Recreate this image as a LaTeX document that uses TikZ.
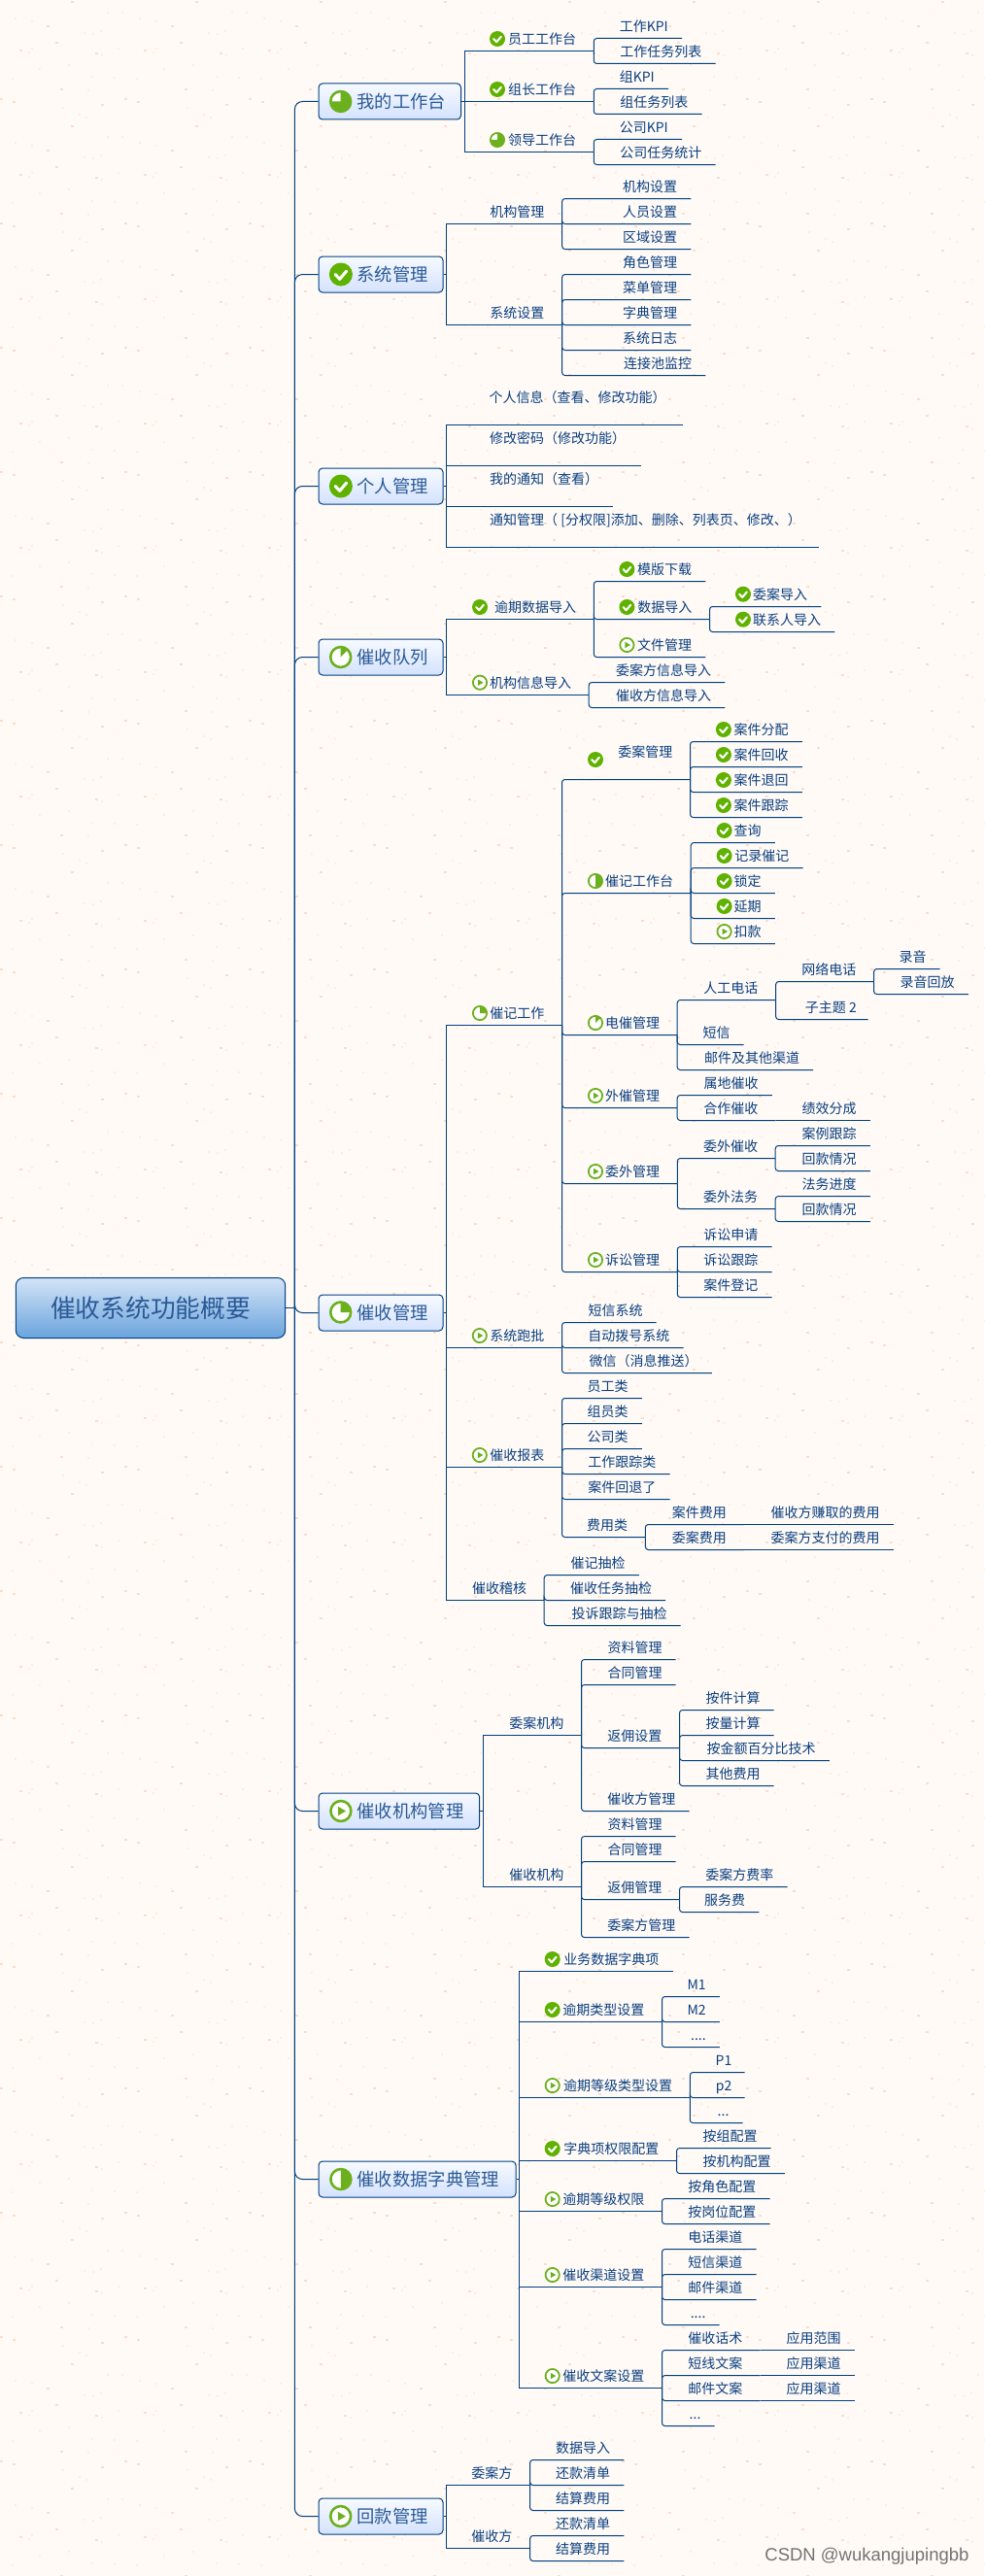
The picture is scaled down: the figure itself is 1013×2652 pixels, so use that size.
\documentclass[tikz,border=0pt]{standalone}
\usepackage{fontspec}
\setmainfont{Noto Sans CJK SC}
\newfontfamily\markfont{Liberation Sans}
\usepackage{xcolor}
\usepackage{tikz}

\definecolor{linecol}{HTML}{00407F}
\definecolor{textcol}{HTML}{0A3F80}
\definecolor{boxtext}{HTML}{2A5A96}
\definecolor{boxtop}{HTML}{F7FAFF}
\definecolor{boxbot}{HTML}{D4E2FE}
\definecolor{rootop}{HTML}{D3E4F7}
\definecolor{rootbot}{HTML}{6AA3DD}
\definecolor{chkgreen}{HTML}{5FB200}
\definecolor{piegreen}{HTML}{6CB01E}
\definecolor{paper}{HTML}{FFFAF6}
\definecolor{speckA}{HTML}{FADDCB}
\definecolor{speckB}{HTML}{FDEDE3}

\tikzset{
	leaf/.style={anchor=south east, inner xsep=14pt, inner ysep=6.8pt, text depth=0pt, text height=11pt, text=textcol, font=\fontsize{14}{16}\selectfont},
	branch/.style={leaf, inner xsep=18pt},
	tallleaf/.style={leaf, inner xsep=#1, inner ysep=22.8pt},
	maintopic/.style={draw=linecol, line width=1pt, rounded corners=4pt, top color=boxtop, bottom color=boxbot, text=boxtext, anchor=west, minimum height=37pt, inner xsep=12pt, inner ysep=0pt, text width=#1, align=left, text height=16pt, text depth=2pt, font=\fontsize{18.3}{22}\selectfont, execute at begin node={\hspace*{27.5pt}}},
	central/.style={draw=linecol, line width=1pt, rounded corners=8pt, top color=rootop, bottom color=rootbot, text=boxtext, minimum width=277.4pt, minimum height=62pt, text height=22pt, text depth=2.4pt, font=\fontsize{25.7}{30}\selectfont},
	link/.style={draw=linecol, line width=1pt, rounded corners=3pt},
	rootlink/.style={draw=linecol, line width=1pt},
	trunklink/.style={draw=linecol, line width=1pt, rounded corners=8pt},
	chkicon/.style={circle, inner sep=0pt, fill=chkgreen, minimum size=#1pt, path picture={
		\draw[white, line width={#1*.13pt}, line cap=round, line join=round] (path picture bounding box.center) ++({-.24*#1},{.0*#1}) -- ++({.19*#1},{.2*#1}) -- ++({.29*#1},{-.34*#1});}},
	pieicon/.style 2 args={circle, inner sep=0pt, draw=piegreen, fill=white, line width={#1*.11pt}, minimum size={#1*.89pt}, path picture={
		\fill[piegreen] (path picture bounding box.center) -- ++(90:30pt) arc[start angle=90, delta angle=-#2, radius=30pt] -- cycle;}},
	playicon/.style={circle, inner sep=0pt, draw=piegreen, fill=white, line width={#1*.11pt}, minimum size={#1*.89pt}, path picture={
		\fill[piegreen] (path picture bounding box.center) ++({-.12*#1},{-.2*#1}) -- ++({.34*#1},{.2*#1}) -- ++({-.34*#1},{.2*#1}) -- cycle;}},
}

\begin{document}
\begin{tikzpicture}[x=1pt,y=-1pt]
	\useasboundingbox (0,0) rectangle (1013,2652);
	% Paper
	\fill[paper] (0,0) rectangle (1013,2652);
	\foreach \tx in {0,128,...,896} {
		\foreach \ty in {0,128,...,2560} {
			\foreach \sx/\sy in {73/1,48/26,57/43,20/51,98/54,0/101,13/104,62/91,104/107} {
				\fill[speckA] (\tx+\sx,\ty+\sy) rectangle ++(2.5,2);
			}
			\foreach \sx/\sy in {29/53,32/49,104/56,103/31,95/34,86/33,121/49,90/92,94/78,117/79,88/120,81/117,15/18,32/21,125/12,40/70,70/66,110/12,12/80,64/110} {
				\fill[speckB] (\tx+\sx,\ty+\sy) rectangle ++(2,2);
			}
		}
	}

	% Root and main topics
	\node[central] (root) at (155,1346.5) {催收系统功能概要};
	\node[maintopic=122.5pt] (desk) at (327.5,104.5) {我的工作台};
	\node[maintopic=104pt] (sys) at (327.5,282.5) {系统管理};
	\node[maintopic=104pt] (pers) at (327.5,500.5) {个人管理};
	\node[maintopic=104pt] (queue) at (327.5,676.5) {催收队列};
	\node[maintopic=104pt] (coll) at (327.5,1351.5) {催收管理};
	\node[maintopic=141.7pt] (org) at (327.5,1864.5) {催收机构管理};
	\node[maintopic=179pt] (dict) at (327.5,2243.5) {催收数据字典管理};
	\node[maintopic=104pt] (refund) at (327.5,2590.5) {回款管理};

	% Icons of main topics
	\node[pieicon={23.5}{270}] (deskico) at (350.7,104.5) {};
	\node[chkicon=24] (sysico) at (350.9,282.5) {};
	\node[chkicon=24] (persico) at (350.9,500.5) {};
	\node[pieicon={23.5}{45}] (queueico) at (350.7,676.5) {};
	\node[pieicon={23.5}{90}] (collico) at (350.7,1351) {};
	\node[playicon=23.5] (orgico) at (350.9,1864.5) {};
	\node[pieicon={23.5}{180}] (dictico) at (350.9,2243.5) {};
	\node[playicon=23.5] (refundico) at (350.7,2590.5) {};

	% Trunk
	\coordinate (hub) at (303.4,1346.5);
	\draw[rootlink] (root.east) -- (hub);
	\foreach \topic in {desk,sys,pers,queue,coll,org,dict,refund}
		\draw[trunklink] (hub) |- (\topic.west);

	% My desk
	\coordinate (deskbus) at (478.6,104.5);
	\draw[rootlink] (desk.east) -- (deskbus);
	\node[branch] (staffdesk) at (611.3,52.5) {员工工作台};
	\node[branch] (groupdesk) at (611.3,104.5) {组长工作台};
	\node[branch] (leaddesk) at (611.3,156.5) {领导工作台};
	\node[chkicon=16] (staffico) at (512,40) {};
	\node[chkicon=16] (groupico) at (512,92) {};
	\node[pieicon={16}{270}] (leadico) at (512,144) {};
	\node[leaf] (staffkpi) at (702,39.5) {工作KPI};
	\node[leaf] (stafftask) at (736.5,65.5) {工作任务列表};
	\node[leaf] (groupkpi) at (688,91.5) {组KPI};
	\node[leaf] (grouptask) at (722.5,117.5) {组任务列表};
	\node[leaf] (leadkpi) at (702,143.5) {公司KPI};
	\node[leaf] (leadtask) at (736.5,169.5) {公司任务统计};
	\foreach \kid in {staffdesk,groupdesk,leaddesk}
		\draw[rootlink] (deskbus) |- (\kid.south east);
	\foreach \kid in {staffkpi,stafftask}
		\draw[link] (staffdesk.south east) |- (\kid.south east);
	\foreach \kid in {groupkpi,grouptask}
		\draw[link] (groupdesk.south east) |- (\kid.south east);
	\foreach \kid in {leadkpi,leadtask}
		\draw[link] (leaddesk.south east) |- (\kid.south east);

	% System
	\coordinate (sysbus) at (459.4,282.5);
	\draw[rootlink] (sys.east) -- (sysbus);
	\node[branch] (orgadmin) at (578.6,230.5) {机构管理};
	\node[branch] (syssetup) at (578.6,334.5) {系统设置};
	\node[leaf] (orgset) at (711.3,204.5) {机构设置};
	\node[leaf] (staffset) at (711.3,230.5) {人员设置};
	\node[leaf] (areaset) at (711.3,256.5) {区域设置};
	\node[leaf] (roleadmin) at (711.3,282.5) {角色管理};
	\node[leaf] (menuadmin) at (711.3,308.5) {菜单管理};
	\node[leaf] (wordadmin) at (711.3,334.5) {字典管理};
	\node[leaf] (syslog) at (711.3,360.5) {系统日志};
	\node[leaf] (poolwatch) at (726.3,386.5) {连接池监控};
	\foreach \kid in {orgadmin,syssetup}
		\draw[rootlink] (sysbus) |- (\kid.south east);
	\foreach \kid in {orgset,staffset,areaset}
		\draw[link] (orgadmin.south east) |- (\kid.south east);
	\foreach \kid in {roleadmin,menuadmin,wordadmin,syslog,poolwatch}
		\draw[link] (syssetup.south east) |- (\kid.south east);

	% Personal
	\coordinate (persbus) at (459.4,500.5);
	\draw[rootlink] (pers.east) -- (persbus);
	\node[tallleaf=17.5pt] (persinfo) at (703.4,437.5) {个人信息（查看、修改功能）};
	\node[tallleaf=16pt] (passwd) at (660.4,479.5) {修改密码（修改功能）};
	\node[tallleaf=15pt] (mynote) at (631.4,521.5) {我的通知（查看）};
	\node[tallleaf=18pt] (noteadmin) at (843,563.5) {通知管理（ [分权限]添加、删除、列表页、修改、）};
	\foreach \kid in {persinfo,passwd,mynote,noteadmin}
		\draw[rootlink] (persbus) |- (\kid.south east);

	% Queue
	\coordinate (queuebus) at (459.4,676.5);
	\draw[rootlink] (queue.east) -- (queuebus);
	\node[branch] (overdue) at (611.3,637.5) {逾期数据导入};
	\node[branch] (orginfo) at (606.2,715.5) {机构信息导入};
	\node[chkicon=16] (overdueico) at (494,625) {};
	\node[playicon=16] (orginfoico) at (494,702.7) {};
	\node[leaf] (tmpl) at (726.3,598.5) {模版下载};
	\node[branch] (dataimp) at (730.5,637.5) {数据导入};
	\node[leaf] (filemgr) at (726.3,676.5) {文件管理};
	\node[chkicon=16] (tmplico) at (645.4,586) {};
	\node[chkicon=16] (dataico) at (645.4,625) {};
	\node[playicon=16] (fileico) at (645.4,664) {};
	\node[leaf] (caseimp) at (845.4,624.5) {委案导入};
	\node[leaf] (contactimp) at (859.4,650.5) {联系人导入};
	\node[chkicon=16] (caseimpico) at (765,611.7) {};
	\node[chkicon=16] (contactico) at (765,637.7) {};
	\node[leaf] (ownerinfo) at (746.4,702.5) {委案方信息导入};
	\node[leaf] (agentinfo) at (746.4,728.5) {催收方信息导入};
	\foreach \kid in {overdue,orginfo}
		\draw[rootlink] (queuebus) |- (\kid.south east);
	\foreach \kid in {tmpl,dataimp,filemgr}
		\draw[link] (overdue.south east) |- (\kid.south east);
	\foreach \kid in {caseimp,contactimp}
		\draw[link] (dataimp.south east) |- (\kid.south east);
	\foreach \kid in {ownerinfo,agentinfo}
		\draw[link] (orginfo.south east) |- (\kid.south east);

	% Collection
	\coordinate (collbus) at (459.5,1351.5);
	\draw[rootlink] (coll.east) -- (collbus);
	\node[branch] (notework) at (578.5,1055.5) {催记工作};
	\node[branch] (batch) at (578.5,1387.5) {系统跑批};
	\node[branch] (report) at (578.5,1510.5) {催收报表};
	\node[branch] (audit) at (560.2,1647.5) {催收稽核};
	\node[pieicon={16}{90}] (noteworkico) at (494,1043) {};
	\node[playicon=16] (batchico) at (493.8,1375) {};
	\node[playicon=16] (reportico) at (493.8,1498) {};
	\foreach \kid in {notework,batch,report,audit}
		\draw[rootlink] (collbus) |- (\kid.south east);

	\node[tallleaf=18pt] (caseadmin) at (710.5,802.5) {委案管理};
	\node[branch] (notedesk) at (711.2,919.5) {催记工作台};
	\node[branch] (phone) at (697.2,1065.5) {电催管理};
	\node[branch] (visit) at (697.2,1140.5) {外催管理};
	\node[branch] (outsource) at (697.3,1218.5) {委外管理};
	\node[branch] (lawsuit) at (697.3,1309.5) {诉讼管理};
	\node[chkicon=16] (caseadminico) at (613,782) {};
	\node[pieicon={16}{180}] (notedeskico) at (613,907) {};
	\node[pieicon={16}{45}] (phoneico) at (613,1053) {};
	\node[playicon=16] (visitico) at (613,1128) {};
	\node[playicon=16] (outsourceico) at (613,1206) {};
	\node[playicon=16] (lawsuitico) at (613,1297) {};
	\foreach \kid in {caseadmin,notedesk,phone,visit,outsource,lawsuit}
		\draw[link] (notework.south east) |- (\kid.south east);

	\node[leaf] (assign) at (825.8,763.5) {案件分配};
	\node[leaf] (recall) at (825.8,789.5) {案件回收};
	\node[leaf] (giveback) at (825.8,815.5) {案件退回};
	\node[leaf] (track) at (825.8,841.5) {案件跟踪};
	\node[chkicon=16] (assignico) at (744.9,751) {};
	\node[chkicon=16] (recallico) at (744.9,777) {};
	\node[chkicon=16] (givebackico) at (744.9,803) {};
	\node[chkicon=16] (trackico) at (744.9,829) {};
	\foreach \kid in {assign,recall,giveback,track}
		\draw[link] (caseadmin.south east) |- (\kid.south east);

	\node[leaf] (query) at (797.8,867.5) {查询};
	\node[leaf] (recnote) at (826.6,893.5) {记录催记};
	\node[leaf] (lock) at (797.8,919.5) {锁定};
	\node[leaf] (delay) at (797.8,945.5) {延期};
	\node[leaf] (deduct) at (797.8,971.5) {扣款};
	\node[chkicon=16] (queryico) at (745.6,855) {};
	\node[chkicon=16] (recnoteico) at (745.6,881) {};
	\node[chkicon=16] (lockico) at (745.6,907) {};
	\node[chkicon=16] (delayico) at (745.6,933) {};
	\node[playicon=16] (deductico) at (745.6,959) {};
	\foreach \kid in {query,recnote,lock,delay,deduct}
		\draw[link] (notedesk.south east) |- (\kid.south east);

	\node[branch] (manual) at (798.6,1029.5) {人工电话};
	\node[leaf] (sms) at (765.7,1075.5) {短信};
	\node[leaf] (mailetc) at (837.2,1101.5) {邮件及其他渠道};
	\node[branch] (voip) at (899.6,1010.5) {网络电话};
	\node[leaf, inner xsep=11.5pt] (subtwo) at (893.5,1049.5) {子主题 2};
	\node[leaf] (record) at (967.7,997.5) {录音};
	\node[leaf] (replay) at (996.8,1023.5) {录音回放};
	\foreach \kid in {manual,sms,mailetc}
		\draw[link] (phone.south east) |- (\kid.south east);
	\foreach \kid in {voip,subtwo}
		\draw[link] (manual.south east) |- (\kid.south east);
	\foreach \kid in {record,replay}
		\draw[link] (voip.south east) |- (\kid.south east);

	\node[leaf] (local) at (794.8,1127.5) {属地催收};
	\node[branch] (partner) at (798.6,1153.5) {合作催收};
	\node[leaf] (share) at (895.8,1153.5) {绩效分成};
	\foreach \kid in {local,partner}
		\draw[link] (visit.south east) |- (\kid.south east);
	\draw[rootlink] (partner.south east) -- (share.south east);

	\node[branch] (outcoll) at (798.2,1192.5) {委外催收};
	\node[branch] (outlaw) at (798.2,1244.5) {委外法务};
	\node[leaf] (casetrack) at (895.8,1179.5) {案例跟踪};
	\node[leaf] (paybackA) at (895.8,1205.5) {回款情况};
	\node[leaf] (lawprog) at (895.8,1231.5) {法务进度};
	\node[leaf] (paybackB) at (895.8,1257.5) {回款情况};
	\foreach \kid in {outcoll,outlaw}
		\draw[link] (outsource.south east) |- (\kid.south east);
	\foreach \kid in {casetrack,paybackA}
		\draw[link] (outcoll.south east) |- (\kid.south east);
	\foreach \kid in {lawprog,paybackB}
		\draw[link] (outlaw.south east) |- (\kid.south east);

	\node[leaf] (suitapply) at (794.5,1283.5) {诉讼申请};
	\node[leaf] (suittrack) at (794.5,1309.5) {诉讼跟踪};
	\node[leaf] (suitreg) at (794.5,1335.5) {案件登记};
	\foreach \kid in {suitapply,suittrack,suitreg}
		\draw[link] (lawsuit.south east) |- (\kid.south east);

	\node[leaf] (smssys) at (675.7,1361.5) {短信系统};
	\node[leaf] (autodial) at (703.5,1387.5) {自动拨号系统};
	\node[leaf] (wechat) at (732.8,1413.5) {微信（消息推送）};
	\foreach \kid in {smssys,autodial,wechat}
		\draw[link] (batch.south east) |- (\kid.south east);

	\node[leaf] (staffkind) at (660.8,1439.5) {员工类};
	\node[leaf] (groupkind) at (660.8,1465.5) {组员类};
	\node[leaf] (firmkind) at (660.8,1491.5) {公司类};
	\node[leaf] (trackkind) at (689.6,1517.5) {工作跟踪类};
	\node[leaf] (backkind) at (689.6,1543.5) {案件回退了};
	\node[branch] (feekind) at (664.4,1582.5) {费用类};
	\node[branch] (casefee) at (766,1569.5) {案件费用};
	\node[branch] (ownerfee) at (766,1595.5) {委案费用};
	\node[leaf] (earnfee) at (919.9,1569.5) {催收方赚取的费用};
	\node[leaf] (payfee) at (919.9,1595.5) {委案方支付的费用};
	\foreach \kid in {staffkind,groupkind,firmkind,trackkind,backkind,feekind}
		\draw[link] (report.south east) |- (\kid.south east);
	\foreach \kid in {casefee,ownerfee}
		\draw[link] (feekind.south east) |- (\kid.south east);
	\draw[rootlink] (casefee.south east) -- (earnfee.south east);
	\draw[rootlink] (ownerfee.south east) -- (payfee.south east);

	\node[leaf] (notecheck) at (657.8,1621.5) {催记抽检};
	\node[leaf] (taskcheck) at (685.2,1647.5) {催收任务抽检};
	\node[leaf] (complain) at (700.7,1673.5) {投诉跟踪与抽检};
	\foreach \kid in {notecheck,taskcheck,complain}
		\draw[link] (audit.south east) |- (\kid.south east);

	% Organisations
	\coordinate (orgbus) at (497.5,1864.5);
	\draw[rootlink] (org.east) -- (orgbus);
	\node[branch] (ownerorg) at (598.5,1786.5) {委案机构};
	\node[branch] (agentorg) at (598.5,1942.5) {催收机构};
	\foreach \kid in {ownerorg,agentorg}
		\draw[rootlink] (orgbus) |- (\kid.south east);
	\node[leaf] (docA) at (695.7,1708.5) {资料管理};
	\node[leaf] (dealA) at (695.7,1734.5) {合同管理};
	\node[branch] (rebateset) at (699.5,1799.5) {返佣设置};
	\node[leaf] (agentadmin) at (709.5,1864.5) {催收方管理};
	\node[leaf] (perpiece) at (796.7,1760.5) {按件计算};
	\node[leaf] (peramount) at (796.7,1786.5) {按量计算};
	\node[leaf] (percent) at (853.8,1812.5) {按金额百分比技术};
	\node[leaf] (otherfee) at (796.7,1838.5) {其他费用};
	\node[leaf] (docB) at (695.7,1890.5) {资料管理};
	\node[leaf] (dealB) at (695.7,1916.5) {合同管理};
	\node[branch] (rebateadmin) at (699.5,1955.5) {返佣管理};
	\node[leaf] (owneradmin) at (709.5,1994.5) {委案方管理};
	\node[leaf] (feerate) at (810.5,1942.5) {委案方费率};
	\node[leaf] (service) at (781.4,1968.5) {服务费};
	\foreach \kid in {docA,dealA,rebateset,agentadmin}
		\draw[link] (ownerorg.south east) |- (\kid.south east);
	\foreach \kid in {perpiece,peramount,percent,otherfee}
		\draw[link] (rebateset.south east) |- (\kid.south east);
	\foreach \kid in {docB,dealB,rebateadmin,owneradmin}
		\draw[link] (agentorg.south east) |- (\kid.south east);
	\foreach \kid in {feerate,service}
		\draw[link] (rebateadmin.south east) |- (\kid.south east);

	% Dictionary
	\coordinate (dictbus) at (534.6,2243.5);
	\draw[rootlink] (dict.east) -- (dictbus);
	\node[leaf] (bizdict) at (692.6,2029.5) {业务数据字典项};
	\node[branch] (odtype) at (681.5,2081.5) {逾期类型设置};
	\node[branch] (odclass) at (710.3,2159.5) {逾期等级类型设置};
	\node[branch] (dictright) at (696.5,2224.5) {字典项权限配置};
	\node[branch] (odright) at (681.5,2276.5) {逾期等级权限};
	\node[branch] (channel) at (681.5,2354.5) {催收渠道设置};
	\node[branch] (script) at (681.5,2458.5) {催收文案设置};
	\node[chkicon=16] (bizdictico) at (568.7,2017) {};
	\node[chkicon=16] (odtypeico) at (568.7,2069) {};
	\node[playicon=16] (odclassico) at (568.7,2147) {};
	\node[chkicon=16] (dictrightico) at (568.7,2212) {};
	\node[playicon=16] (odrightico) at (568.7,2264) {};
	\node[playicon=16] (channelico) at (568.7,2342) {};
	\node[playicon=16] (scriptico) at (568.7,2446) {};
	\foreach \kid in {bizdict,odtype,odclass,dictright,odright,channel,script}
		\draw[rootlink] (dictbus) |- (\kid.south east);
	\node[leaf] (mone) at (740.9,2055.5) {M1};
	\node[leaf] (mtwo) at (740.9,2081.5) {M2};
	\node[leaf] (mmore) at (740.9,2107.5) {....};
	\node[leaf, inner xsep=13pt] (pone) at (766.5,2133.5) {P1};
	\node[leaf, inner xsep=13pt] (ptwo) at (766.5,2159.5) {p2};
	\node[leaf] (pmore) at (764.6,2185.5) {...};
	\node[leaf] (bygroup) at (793.7,2211.5) {按组配置};
	\node[leaf] (byorg) at (807.8,2237.5) {按机构配置};
	\node[leaf] (byrole) at (792.5,2263.5) {按角色配置};
	\node[leaf] (bypost) at (792.5,2289.5) {按岗位配置};
	\node[leaf] (telchan) at (778.5,2315.5) {电话渠道};
	\node[leaf] (smschan) at (778.5,2341.5) {短信渠道};
	\node[leaf] (mailchan) at (778.5,2367.5) {邮件渠道};
	\node[leaf] (morechan) at (740.6,2393.5) {....};
	\node[branch] (talk) at (782.5,2419.5) {催收话术};
	\node[branch] (smstext) at (782.5,2445.5) {短线文案};
	\node[branch] (mailtext) at (782.5,2471.5) {邮件文案};
	\node[leaf] (moretext) at (735.6,2497.5) {...};
	\node[leaf] (talkuse) at (879.8,2419.5) {应用范围};
	\node[leaf] (smsuse) at (879.8,2445.5) {应用渠道};
	\node[leaf] (mailuse) at (879.8,2471.5) {应用渠道};
	\foreach \kid in {mone,mtwo,mmore}
		\draw[link] (odtype.south east) |- (\kid.south east);
	\foreach \kid in {pone,ptwo,pmore}
		\draw[link] (odclass.south east) |- (\kid.south east);
	\foreach \kid in {bygroup,byorg}
		\draw[link] (dictright.south east) |- (\kid.south east);
	\foreach \kid in {byrole,bypost}
		\draw[link] (odright.south east) |- (\kid.south east);
	\foreach \kid in {telchan,smschan,mailchan,morechan}
		\draw[link] (channel.south east) |- (\kid.south east);
	\foreach \kid in {talk,smstext,mailtext,moretext}
		\draw[link] (script.south east) |- (\kid.south east);
	\draw[rootlink] (talk.south east) -- (talkuse.south east);
	\draw[rootlink] (smstext.south east) -- (smsuse.south east);
	\draw[rootlink] (mailtext.south east) -- (mailuse.south east);

	% Refund
	\coordinate (refundbus) at (459.6,2590.5);
	\draw[rootlink] (refund.east) -- (refundbus);
	\node[branch] (ownerside) at (545.6,2558.5) {委案方};
	\node[branch] (agentside) at (545.6,2623.5) {催收方};
	\node[leaf] (impdata) at (642.4,2532.5) {数据导入};
	\node[leaf] (billA) at (642.4,2558.5) {还款清单};
	\node[leaf] (settleA) at (642.4,2584.5) {结算费用};
	\node[leaf] (billB) at (642.4,2610.5) {还款清单};
	\node[leaf] (settleB) at (642.4,2636.5) {结算费用};
	\foreach \kid in {ownerside,agentside}
		\draw[rootlink] (refundbus) |- (\kid.south east);
	\foreach \kid in {impdata,billA,settleA}
		\draw[link] (ownerside.south east) |- (\kid.south east);
	\foreach \kid in {billB,settleB}
		\draw[link] (agentside.south east) |- (\kid.south east);

	% Watermark
	\node[anchor=east, text=black!55, font=\markfont\fontsize{18.5}{22}\selectfont] (mark) at (1001,2632) {CSDN @wukangjupingbb};
\end{tikzpicture}
\end{document}
